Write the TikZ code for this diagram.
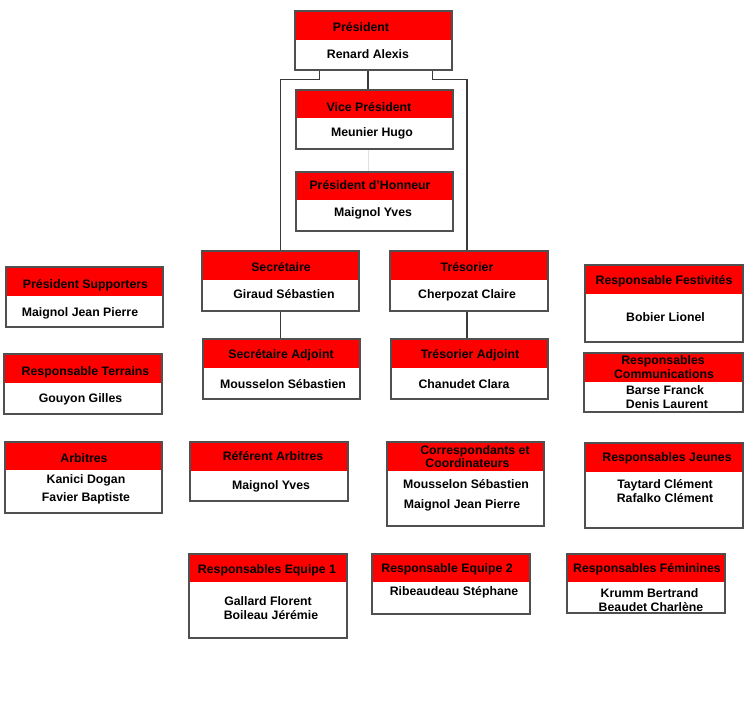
\documentclass[tikz,border=0pt]{standalone}
\usepackage{fontspec}
\setmainfont{Liberation Sans}
\usetikzlibrary{fit}
\definecolor{hdrred}{HTML}{FE0000}
\definecolor{frame}{HTML}{505050}
\definecolor{wire}{HTML}{3A3A3A}
\newcommand\orgbox[6]{%
  \fill[hdrred] (#2,#3) rectangle (#4,#6);
  \node[boxframe, fit={(#2,#3) (#4,#5)}] (#1) {};
}
\begin{document}
\begin{tikzpicture}[x=1pt,y=-1pt,
  boxframe/.style={draw=frame, line width=1.3pt, inner sep=0pt},
  txt/.style={font=\fontsize{12.3}{14}\selectfont\bfseries, inner sep=0pt, anchor=base, yshift=-4.4pt},
  conn/.style={draw=wire, line width=1.2pt},
  faint/.style={draw=black!12, line width=0.8pt}]
\useasboundingbox (0,0) rectangle (750,703);
\fill[white] (0,0) rectangle (750,703);

% boxes
\orgbox{pres}{295}{11}{452}{70}{40}
\orgbox{vice}{296}{90}{453}{149}{118}
\orgbox{hon}{296}{172}{453}{231}{200}
\orgbox{sec}{202}{251}{359}{311}{280}
\orgbox{tres}{390}{251}{548}{311}{280}
\orgbox{secadj}{203}{339}{360}{399}{368}
\orgbox{tresadj}{391}{339}{548}{399}{368}
\orgbox{sup}{6}{267}{163}{327}{296}
\orgbox{terr}{4}{354}{162}{414}{383}
\orgbox{arb}{5}{442}{162}{513}{470}
\orgbox{fest}{585}{265}{743}{342}{294}
\orgbox{comm}{584}{353}{743}{412}{382}
\orgbox{jeun}{585}{443}{743}{528}{472}
\orgbox{ref}{190}{442}{348}{501}{471}
\orgbox{corr}{387}{442}{544}{526}{471}
\orgbox{eqa}{189}{554}{347}{638}{582}
\orgbox{eqb}{372}{554}{530}{614}{582}
\orgbox{fem}{567}{554}{725}{613}{582}

% connectors
\draw[conn] ([xshift=25pt]pres.south west) -- ++(0,9) -| (sec.north);
\draw[conn] ([xshift=-20pt]pres.south east) -- ++(0,9) -| ([xshift=-2pt]tres.north);
\draw[conn] ([xshift=-5.5pt]pres.south) -- ([xshift=-5.5pt]pres.south |- vice.north);
\draw[faint] ([xshift=-6.5pt]vice.south) -- ([xshift=-6.5pt]vice.south |- hon.north);
\draw[conn] (sec.south) -- (sec.south |- secadj.north);
\draw[conn] ([xshift=-2pt]tres.south) -- ([xshift=-2pt]tres.south |- tresadj.north);

% texts
\node[txt] (pres-h) at (361,27) {Président};
\node[txt] (pres-b) at (368,54) {Renard Alexis};
\node[txt] (vice-h) at (369,107) {Vice Président};
\node[txt] (vice-b) at (372,132) {Meunier Hugo};
\node[txt] (hon-h) at (370,185) {Président d'Honneur};
\node[txt] (hon-b) at (373,212) {Maignol Yves};
\node[txt] (sec-h) at (281,267) {Secrétaire};
\node[txt] (sec-b) at (284,294) {Giraud Sébastien};
\node[txt] (tres-h) at (467,267) {Trésorier};
\node[txt] (tres-b) at (467,294) {Cherpozat Claire};
\node[txt] (secadj-h) at (281,354) {Secrétaire Adjoint};
\node[txt] (secadj-b) at (283,384) {Mousselon Sébastien};
\node[txt] (tresadj-h) at (470,354) {Trésorier Adjoint};
\node[txt] (tresadj-b) at (464,384) {Chanudet Clara};
\node[txt] (sup-h) at (85.5,284) {Président Supporters};
\node[txt] (sup-b) at (80,312) {Maignol Jean Pierre};
\node[txt] (terr-h) at (85.5,371) {Responsable Terrains};
\node[txt] (terr-b) at (80.5,398) {Gouyon Gilles};
\node[txt] (arb-h) at (84,458) {Arbitres};
\node[txt] (arb-b1) at (86,479) {Kanici Dogan};
\node[txt] (arb-b2) at (86,497) {Favier Baptiste};
\node[txt] (fest-h) at (664,280) {Responsable Festivités};
\node[txt] (fest-b) at (665.5,317) {Bobier Lionel};
\node[txt] (comm-h1) at (663,360) {Responsables};
\node[txt] (comm-h2) at (664,374) {Communications};
\node[txt] (comm-b1) at (665,390) {Barse Franck};
\node[txt] (comm-b2) at (667,404) {Denis Laurent};
\node[txt] (jeun-h) at (667,457) {Responsables Jeunes};
\node[txt] (jeun-b1) at (665,484) {Taytard Clément};
\node[txt] (jeun-b2) at (665,498) {Rafalko Clément};
\node[txt] (ref-h) at (273,456) {Référent Arbitres};
\node[txt] (ref-b) at (271,485) {Maignol Yves};
\node[txt] (corr-h1) at (475,450) {Correspondants et};
\node[txt] (corr-h2) at (467.5,463) {Coordinateurs};
\node[txt] (corr-b1) at (466,484) {Mousselon Sébastien};
\node[txt] (corr-b2) at (462,504) {Maignol Jean Pierre};
\node[txt] (eqa-h) at (267,569) {Responsables Equipe 1};
\node[txt] (eqa-b1) at (268,601) {Gallard Florent};
\node[txt] (eqa-b2) at (271,615) {Boileau Jérémie};
\node[txt] (eqb-h) at (447,568) {Responsable Equipe 2};
\node[txt] (eqb-b) at (454,591) {Ribeaudeau Stéphane};
\node[txt] (fem-h) at (647,568) {Responsables Féminines};
\node[txt] (fem-b1) at (649.5,593) {Krumm Bertrand};
\node[txt] (fem-b2) at (651,607) {Beaudet Charlène};
\end{tikzpicture}
\end{document}
